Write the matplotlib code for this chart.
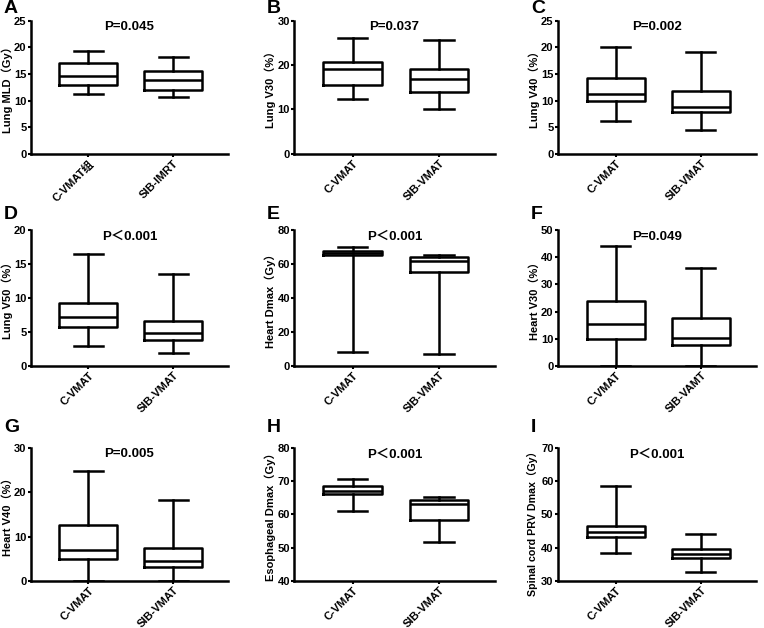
import matplotlib
matplotlib.use("Agg")
import matplotlib.pyplot as plt

plt.rcParams['font.family'] = ['Liberation Sans', 'Noto Sans CJK SC', 'DejaVu Sans']
plt.rcParams['font.weight'] = 'bold'

# ===============================
# Data (whislo, q1, med, q3, whishi)
# ===============================
panel_letters = ["A", "B", "C", "D", "E", "F", "G", "H", "I"]
ylabels = ["Lung MLD（Gy）", "Lung V30（%）", "Lung V40（%）",
           "Lung V50（%）", "Heart Dmax（Gy）", "Heart V30（%）",
           "Heart V40（%）", "Esophageal Dmax（Gy）", "Spinal cord PRV Dmax（Gy）"]
pvalues = ["P=0.045", "P=0.037", "P=0.002",
           "P＜0.001", "P＜0.001", "P=0.049",
           "P=0.005", "P＜0.001", "P＜0.001"]
group_labels = [["C-VMAT组", "SIB-IMRT"], ["C-VMAT", "SIB-VMAT"], ["C-VMAT", "SIB-VMAT"],
                ["C-VMAT", "SIB-VMAT"], ["C-VMAT", "SIB-VMAT"], ["C-VMAT", "SIB-VAMT"],
                ["C-VMAT", "SIB-VMAT"], ["C-VMAT", "SIB-VMAT"], ["C-VMAT", "SIB-VMAT"]]
ylims = [(0, 25), (0, 30), (0, 25), (0, 20), (0, 80), (0, 50), (0, 30), (40, 80), (30, 70)]
yticks = [[0, 5, 10, 15, 20, 25], [0, 10, 20, 30], [0, 5, 10, 15, 20, 25],
          [0, 5, 10, 15, 20], [0, 20, 40, 60, 80], [0, 10, 20, 30, 40, 50],
          [0, 10, 20, 30], [40, 50, 60, 70, 80], [30, 40, 50, 60, 70]]

lung_mld = [[11.3, 13.0, 14.7, 17.0, 19.4], [10.6, 12.0, 13.8, 15.5, 18.1]]
lung_v30 = [[12.4, 15.5, 19.2, 20.6, 26.2], [10.2, 14.0, 16.8, 19.2, 25.7]]
lung_v40 = [[6.1, 10.0, 11.3, 14.2, 20.1], [4.4, 7.8, 8.8, 11.8, 19.2]]
lung_v50 = [[3.0, 5.8, 7.2, 9.2, 16.5], [1.9, 3.8, 4.9, 6.6, 13.5]]
heart_dmax = [[8.0, 65.0, 66.2, 67.3, 70.0], [7.0, 55.5, 61.5, 63.8, 65.0]]
heart_v30 = [[0.0, 9.8, 15.5, 24.0, 44.0], [0.0, 7.8, 10.3, 17.5, 36.0]]
heart_v40 = [[0.0, 5.0, 6.9, 12.7, 24.7], [0.0, 3.2, 4.4, 7.4, 18.2]]
eso_dmax = [[61.0, 66.0, 67.0, 68.5, 70.6], [51.7, 58.2, 63.0, 64.3, 65.3]]
cord_dmax = [[38.5, 43.3, 44.8, 46.4, 58.4], [32.8, 37.0, 38.0, 39.5, 44.0]]

all_data = [lung_mld, lung_v30, lung_v40, lung_v50, heart_dmax,
            heart_v30, heart_v40, eso_dmax, cord_dmax]

# ===============================
# Layout (figure fractions)
# ===============================
col_left = [0.040, 0.385, 0.730]
col_width = [0.259, 0.263, 0.260]
row_bottom = [0.755, 0.417, 0.075]
row_height = [0.212, 0.217, 0.212]
letter_y = [1.09, 1.11, 1.15]

fig = plt.figure(figsize=(7.64, 6.28), dpi=100)

for i, stats_vals in enumerate(all_data):
    r, c = divmod(i, 3)
    ax = fig.add_axes([col_left[c], row_bottom[r], col_width[c], row_height[r]])

    stats = []
    for lab, (lo, q1, med, q3, hi) in zip(group_labels[i], stats_vals):
        stats.append(dict(label=lab, whislo=lo, q1=q1, med=med, q3=q3, whishi=hi, fliers=[]))

    lw = 1.8
    ax.bxp(stats, positions=[1, 2], widths=0.68, showfliers=False,
           boxprops=dict(color="black", linewidth=lw),
           medianprops=dict(color="black", linewidth=lw),
           whiskerprops=dict(color="black", linewidth=lw),
           capprops=dict(color="black", linewidth=lw))

    ax.set_xlim(0.32, 2.65)
    ax.set_ylim(*ylims[i])
    ax.set_yticks(yticks[i])
    ax.spines["top"].set_visible(False)
    ax.spines["right"].set_visible(False)
    ax.spines["left"].set_linewidth(1.8)
    ax.spines["bottom"].set_linewidth(1.8)
    ax.tick_params(axis="both", width=1.5, length=2.5, labelsize=8, pad=0.5)
    ax.set_xticklabels(group_labels[i], rotation=45, ha="right",
                       rotation_mode="anchor", fontweight="bold")
    for t in ax.get_yticklabels():
        t.set_fontweight("bold")
    ax.set_ylabel(ylabels[i], fontsize=8 if len(ylabels[i]) < 20 else 7.7,
                  fontweight="bold", labelpad=1)
    # the long spinal cord label sits a little low, as in the original
    if len(ylabels[i]) >= 20:
        ax.yaxis.set_label_coords(-0.1, 0.45)

    ax.text(0.5, 0.95, pvalues[i], transform=ax.transAxes, ha="center", va="center",
            fontsize=9.5, fontweight="bold")
    ax.text(-0.135, letter_y[r], panel_letters[i], transform=ax.transAxes,
            ha="left", va="center", fontsize=14, fontweight="bold")

fig.savefig("out.png", dpi=100)
